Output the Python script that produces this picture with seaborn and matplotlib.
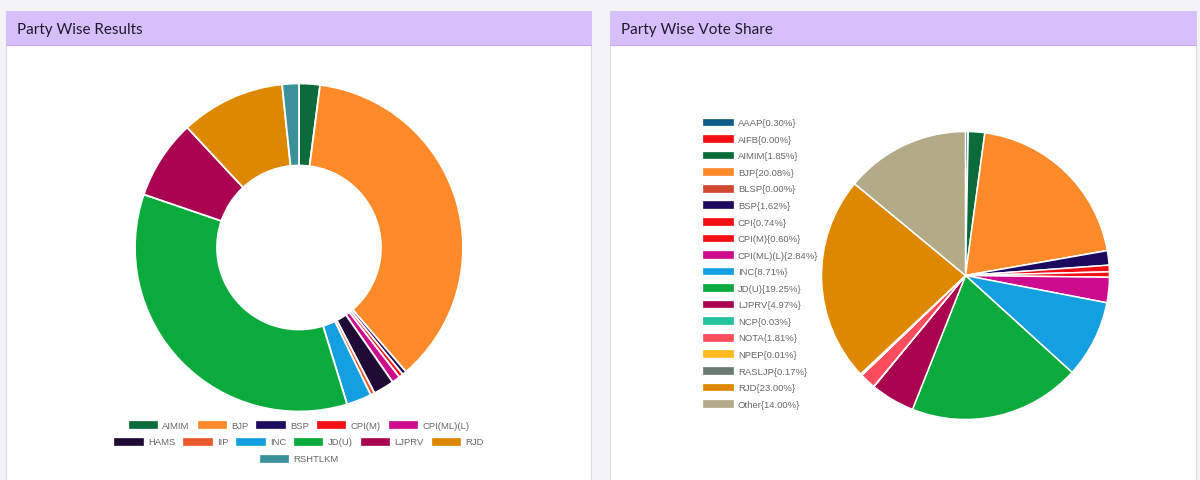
import matplotlib
matplotlib.use("Agg")
import matplotlib.pyplot as plt
from matplotlib.patches import Rectangle, Patch
import seaborn as sns

# ---------------- data ----------------
seat_parties = ["AIMIM", "BJP", "BSP", "CPI(M)", "CPI(ML)(L)", "HAMS", "IIP",
                "INC", "JD(U)", "LJPRV", "RJD", "RSHTLKM"]
seat_counts = [5, 89, 1, 1, 2, 5, 1, 6, 85, 19, 25, 4]
seat_colors = ["#0b6b3a", "#ff8a2a", "#1c0a5e", "#f40f14", "#cc0c8c", "#200a36",
               "#ec5a2c", "#14a0e0", "#0aaa3c", "#aa0450", "#de8800", "#3a9199"]

vote_parties = ["AAAP", "AIFB", "AIMIM", "BJP", "BLSP", "BSP", "CPI", "CPI(M)",
                "CPI(ML)(L)", "INC", "JD(U)", "LJPRV", "NCP", "NOTA", "NPEP",
                "RASLJP", "RJD", "Other"]
vote_share = [0.30, 0.00, 1.85, 20.08, 0.00, 1.62, 0.74, 0.60, 2.84, 8.71,
              19.25, 4.97, 0.03, 1.81, 0.01, 0.17, 23.00, 14.00]
vote_colors = ["#0b5e86", "#f40f14", "#0b6b3a", "#ff8a2a", "#d0482e", "#1c0a5e",
               "#f40f14", "#f40f14", "#cc0c8c", "#14a0e0", "#0aaa3c", "#aa0450",
               "#22c29c", "#ff4d5e", "#ffb81e", "#6b7a70", "#de8800", "#b3aa87"]

titles = ["Party Wise Results", "Party Wise Vote Share"]

# ---------------- style ----------------
sns.set_theme(style="white")
plt.rcParams["font.family"] = ["Liberation Sans", "DejaVu Sans"]

W, H = 1200, 481
fig = plt.figure(figsize=(W / 100, H / 100), dpi=100)
fig.patch.set_facecolor("#f4f4f6")


def fx(px):
    return px / W


def fy(py):
    return 1 - py / H


# panels
panels = [(6, 591), (610, 1196)]
head_top, head_bot = 12, 46
for (x0, x1), t in zip(panels, titles):
    fig.add_artist(Rectangle((fx(x0), fy(H + 10)), fx(x1 - x0), (H + 10 - head_top) / H,
                             transform=fig.transFigure, facecolor="white",
                             edgecolor="#dcdce0", linewidth=0.8, zorder=0))
    fig.add_artist(Rectangle((fx(x0), fy(head_bot)), fx(x1 - x0), (head_bot - head_top) / H,
                             transform=fig.transFigure, facecolor="#d7bffc",
                             edgecolor="#d7bffc", linewidth=0.5, zorder=1))
    fig.add_artist(plt.Line2D([fx(x0), fx(x1)], [fy(head_bot), fy(head_bot)],
                              transform=fig.transFigure, color="#c5aaf0",
                              linewidth=0.8, zorder=2))
    fig.text(fx(x0 + 11), fy((head_top + head_bot) / 2 + 1), t, fontsize=11,
             family=["Lato", "DejaVu Sans"], color="#1f1b2e", va="center",
             ha="left", zorder=3)


def add_pie_axes(cx, cy, r):
    ax = fig.add_axes([fx(cx - r), fy(cy + r), fx(2 * r), 2 * r / H])
    ax.set_axis_off()
    return ax


# ---------------- donut ----------------
ax1 = add_pie_axes(299, 248.5, 164)
ax1.pie(seat_counts, colors=seat_colors, startangle=90, counterclock=False,
        radius=1.0, wedgeprops=dict(width=0.5, edgecolor="white", linewidth=1.3))
ax1.set_xlim(-1, 1)
ax1.set_ylim(-1, 1)

fs = 6.8
rows = [seat_parties[0:5], seat_parties[5:11], seat_parties[11:]]
row_y = [426.5, 443, 460]
for names, yy in zip(rows, row_y):
    handles = [Patch(facecolor=seat_colors[seat_parties.index(n)],
                     edgecolor=seat_colors[seat_parties.index(n)], linewidth=0.5)
               for n in names]
    leg = fig.legend(handles, names, loc="center", bbox_to_anchor=(fx(299), fy(yy)),
                     ncol=len(names), frameon=False, fontsize=fs,
                     handlelength=3.0, handleheight=0.75, handletextpad=0.55,
                     columnspacing=0.85, borderpad=0, borderaxespad=0)
    for txt in leg.get_texts():
        txt.set_color("#666666")

# ---------------- vote-share pie ----------------
ax2 = add_pie_axes(965.5, 276.5, 144)
ax2.pie(vote_share, colors=vote_colors, startangle=90, counterclock=False,
        radius=1.0, wedgeprops=dict(edgecolor="white", linewidth=1.1))
ax2.set_xlim(-1, 1)
ax2.set_ylim(-1, 1)

labels2 = ["%s{%.2f%%}" % (n, v) for n, v in zip(vote_parties, vote_share)]
handles2 = [Patch(facecolor=c, edgecolor=c, linewidth=0.5) for c in vote_colors]
leg2 = fig.legend(handles2, labels2, loc="center left",
                  bbox_to_anchor=(fx(703), fy(264.5)), ncol=1, frameon=False,
                  fontsize=fs, handlelength=3.2, handleheight=0.7,
                  handletextpad=0.5, labelspacing=0.8, borderpad=0,
                  borderaxespad=0)
for txt in leg2.get_texts():
    txt.set_color("#666666")

fig.savefig("out.png", dpi=100, facecolor=fig.get_facecolor())
